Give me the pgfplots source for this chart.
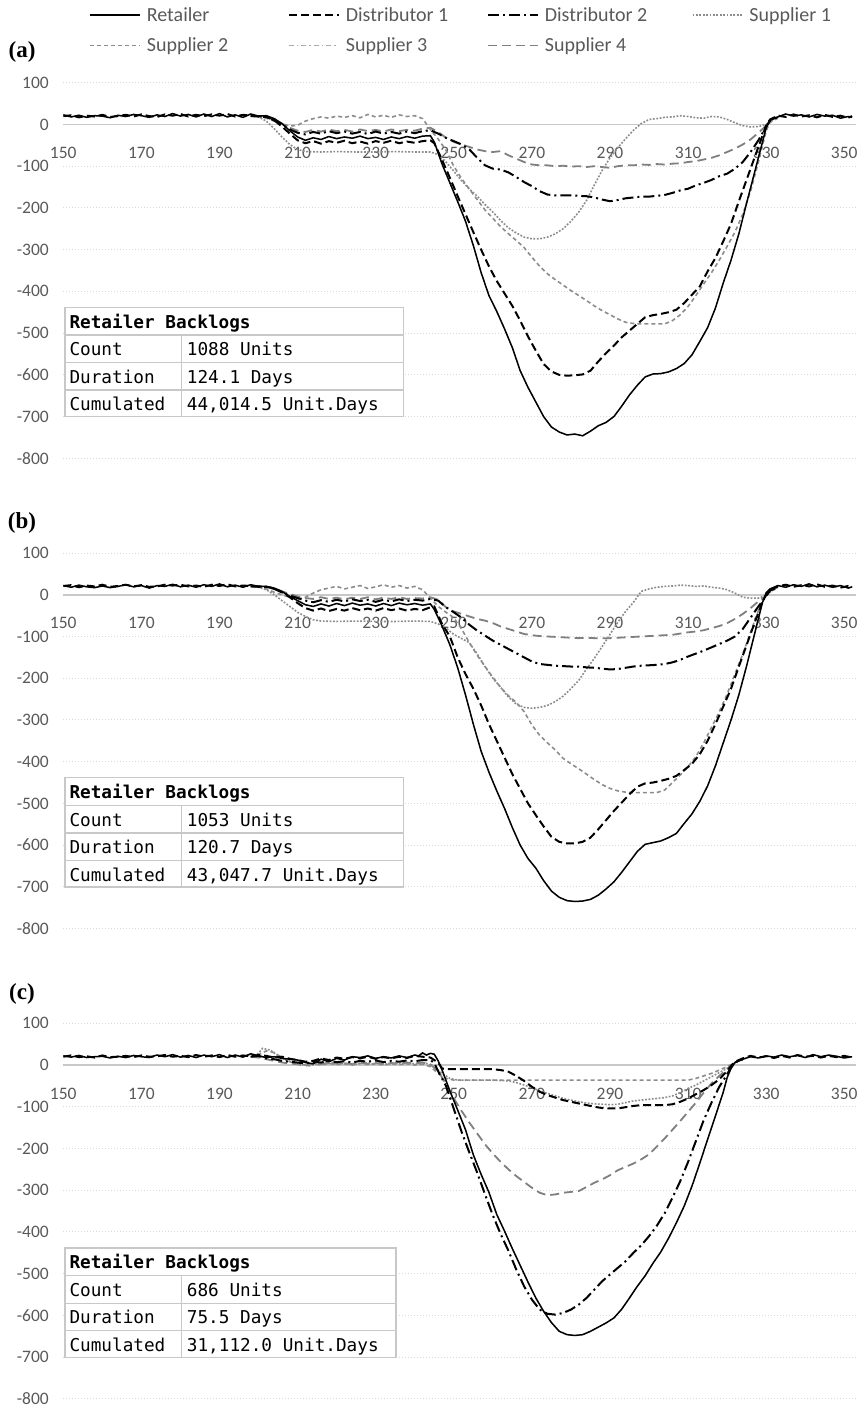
\documentclass[border=0pt]{standalone}
\usepackage{fontspec}
\setmainfont{Carlito}
\newfontfamily\tablefont{DejaVu Sans Mono}
\newfontfamily\panelfont{Liberation Serif}
\usepackage{pgfplots}
\pgfplotsset{compat=1.18}
\usepackage{pgfplotstable}

\definecolor{ticktext}{HTML}{595959}
\definecolor{gridgray}{HTML}{D9D9D9}
\definecolor{zerogray}{HTML}{C8C8C8}
\definecolor{tableline}{HTML}{C8C8C8}
\definecolor{supA}{HTML}{8C8C8C}
\definecolor{supB}{HTML}{8C8C8C}
\definecolor{supC}{HTML}{ABABAB}
\definecolor{supD}{HTML}{7F7F7F}

\tikzset{
  retailer/.style={black, line width=1.5pt, solid},
  dist1/.style={black, line width=2pt, dash pattern=on 8pt off 4pt},
  dist2/.style={black, line width=2pt, dash pattern=on 11pt off 4pt on 2pt off 4pt},
  sup1/.style={supA, line width=1.6pt, dash pattern=on 1.8pt off 1.6pt},
  sup2/.style={supB, line width=1.6pt, dash pattern=on 4pt off 3pt},
  sup3/.style={supC, line width=1.2pt, dash pattern=on 5pt off 3pt on 1.5pt off 3pt},
  sup4/.style={supD, line width=1.8pt, dash pattern=on 9pt off 5pt},
}

\pgfplotsset{
  panel/.style={
    scale only axis, width=792.7pt, height=375.6pt,
    anchor=south west,
    xmin=150, xmax=353, ymin=-800, ymax=100,
    xtick={150,170,...,350}, ytick={-800,-700,...,100},
    axis x line*=middle, axis y line*=left,
    hide obscured x ticks=false, hide obscured y ticks=false,
    x axis line style={draw=zerogray, line width=1.6pt, -},
    y axis line style={draw=none},
    major tick length=0pt,
    ymajorgrids, major grid style={draw=gridgray, line width=1pt, dotted},
    tick label style={font=\fontsize{17.5}{21}\selectfont, text=ticktext},
    /pgf/number format/assume math mode=true,
    xticklabel style={anchor=center, yshift=-28.6pt},
    yticklabel style={anchor=east, xshift=-11pt},
  },
}

% retailer series (Supplier 3 runs underneath it)
\pgfplotstableread{
d v
150 23
152 18
154 22
156 17
158 21
160 20
162 16
164 22
166 19
168 24
170 21
172 17
174 23
176 19
178 26
180 20
182 24
184 18
186 25
188 19
190 26
192 18
194 23
196 17
198 25
200 20
202 21
204 14
206 2
208 -15
210 -30
212 -38
214 -32
216 -36
218 -29
220 -34
222 -30
224 -33
226 -28
228 -34
230 -31
232 -36
234 -30
236 -34
238 -29
240 -33
242 -28
244 -27
245 -42
247 -95
249 -140
251 -185
253 -232
255 -290
257 -355
259 -410
261 -448
263 -490
265 -535
267 -590
269 -630
271 -665
273 -700
275 -725
277 -737
279 -744
281 -742
283 -746
285 -735
287 -722
289 -714
291 -700
293 -675
295 -648
297 -625
299 -605
301 -598
303 -597
305 -593
307 -585
309 -573
311 -552
313 -520
315 -487
317 -440
319 -380
321 -325
323 -262
325 -188
327 -116
329 -44
330 -8
331 10
333 18
335 25
337 20
339 23
341 18
343 24
345 20
347 22
349 15
351 19
352 17
}\RetA

\pgfplotstableread{
d v
150 22
152 18
154 23
156 19
158 17
160 21
162 17
164 20
166 24
168 19
170 22
172 16
174 22
176 20
178 25
180 19
182 23
184 18
186 24
188 20
190 26
192 19
194 23
196 18
198 24
200 20
202 20
204 16
206 8
208 -4
210 -14
212 -24
214 -28
216 -22
218 -27
220 -21
222 -26
224 -20
226 -25
228 -22
230 -27
232 -21
234 -26
236 -20
238 -24
240 -21
242 -25
244 -22
245 -35
247 -75
249 -120
251 -175
253 -240
255 -310
257 -375
259 -425
261 -470
263 -512
265 -558
267 -600
269 -632
271 -655
273 -685
275 -710
277 -725
279 -733
281 -735
283 -734
285 -730
287 -720
289 -705
291 -688
293 -665
295 -640
297 -615
299 -598
301 -594
303 -590
305 -582
307 -572
309 -548
311 -525
313 -495
315 -458
317 -410
319 -355
321 -300
323 -240
325 -170
327 -95
329 -20
330 5
331 14
333 22
335 18
337 24
339 20
341 26
343 19
345 23
347 18
349 22
351 16
352 19
}\RetB

\pgfplotstableread{
d v
150 22
152 19
154 23
156 18
158 20
160 21
162 17
164 21
166 18
168 23
170 20
172 18
174 24
176 20
178 25
180 19
182 23
184 18
186 24
188 20
190 25
192 18
194 24
196 19
198 27
200 22
202 18
204 20
206 16
208 14
210 12
212 6
214 3
216 14
218 8
220 16
222 12
224 20
226 18
228 22
230 16
232 20
234 17
236 22
238 18
240 24
241 22
242 29
243 24
244 28
245 26
246 10
247 -12
249 -62
251 -108
253 -155
255 -215
257 -262
259 -305
261 -358
263 -398
265 -440
267 -480
269 -520
271 -558
273 -590
275 -617
277 -638
279 -646
281 -648
283 -646
285 -638
287 -628
289 -618
291 -606
293 -585
295 -558
297 -530
299 -505
301 -475
303 -448
305 -415
307 -378
309 -338
311 -290
313 -235
315 -178
317 -122
319 -65
320 -30
321 -8
322 6
324 14
326 20
328 17
330 22
332 19
334 24
336 20
338 23
340 18
342 25
344 20
346 24
348 21
350 17
352 20
}\RetC

\newcommand{\backlogtable}[5]{%
  \begin{scope}[yshift=-#1pt]
    \filldraw[fill=white, draw=tableline, line width=1.3pt] (65pt,-307.3pt) rectangle (#2pt,-416.7pt);
    \draw[tableline, line width=1.3pt] (65pt,-335pt) -- (#2pt,-335pt)
      (65pt,-362.7pt) -- (#2pt,-362.7pt) (65pt,-390pt) -- (#2pt,-390pt)
      (181.7pt,-335pt) -- (181.7pt,-416.7pt);
    \begin{scope}[every node/.style={anchor=base west, inner sep=0pt,
        font=\tablefont\fontsize{17.7}{21}\selectfont}]
      \node[font=\tablefont\bfseries\fontsize{17.7}{21}\selectfont] at (69.3pt,-328.2pt) {Retailer Backlogs};
      \node at (69.3pt,-355.8pt) {Count};
      \node at (186.7pt,-355.8pt) {#3};
      \node at (69.3pt,-383.3pt) {Duration};
      \node at (186.7pt,-383.3pt) {#4};
      \node at (69.3pt,-410.8pt) {Cumulated};
      \node at (186.7pt,-410.8pt) {#5};
    \end{scope}
  \end{scope}}

\begin{document}
\begin{tikzpicture}
\useasboundingbox (0pt,0pt) rectangle (863pt,-1409pt);

% ---------------- (a)
\begin{axis}[panel, at={(63.3pt,-458.3pt)},
  legend columns=4,
  legend image code/.code={\draw[#1] (0pt,0pt) -- (50pt,0pt);},
  legend style={at={(0.0325,1.201)}, anchor=north west, draw=none, fill=none,
    inner sep=0pt, column sep=0pt, row sep=15pt,
    font=\color{ticktext}\fontsize{20}{24}\selectfont,
    nodes={inner sep=0pt}},
  legend cell align=left]
\addlegendimage{retailer}\addlegendentry{\makebox[147pt][l]{\hspace{6pt}Retailer}}
\addlegendimage{dist1}\addlegendentry{\makebox[147pt][l]{\hspace{6pt}Distributor 1}}
\addlegendimage{dist2}\addlegendentry{\makebox[153pt][l]{\hspace{6pt}Distributor 2}}
\addlegendimage{sup1}\addlegendentry{\makebox[110pt][l]{\hspace{6pt}Supplier 1}}
\addlegendimage{sup2}\addlegendentry{\makebox[147pt][l]{\hspace{6pt}Supplier 2}}
\addlegendimage{sup3}\addlegendentry{\makebox[147pt][l]{\hspace{6pt}Supplier 3}}
\addlegendimage{sup4}\addlegendentry{\makebox[153pt][l]{\hspace{6pt}Supplier 4}}

\addplot[sup3, forget plot] table[x=d, y=v] {\RetA};
\addplot[sup4, forget plot] coordinates {(198,20)(200,20)(202,19)(204,12)(206,2)(208,-8)(210,-15)(212,-18)(214,-13)(216,-17)(218,-12)(220,-16)(222,-13)(224,-17)(226,-12)(228,-16)(230,-13)(232,-17)(234,-12)(236,-16)(238,-13)(240,-15)(242,-10)(244,-8)(246,-18)(248,-32)(250,-42)(252,-48)(254,-54)(256,-60)(258,-64)(260,-66)(262,-64)(264,-74)(266,-82)(268,-90)(270,-96)(272,-98)(274,-98)(276,-100)(278,-99)(280,-101)(282,-100)(284,-102)(286,-100)(288,-102)(290,-104)(292,-100)(294,-98)(296,-98)(298,-96)(300,-97)(302,-95)(304,-96)(306,-94)(308,-93)(310,-90)(312,-88)(314,-84)(316,-80)(318,-74)(320,-66)(322,-58)(324,-48)(326,-36)(328,-20)(330,-3)(331,10)(333,18)};
\addplot[sup2, forget plot] coordinates {(198,20)(200,19)(202,15)(204,8)(206,2)(208,-4)(210,-2)(212,8)(214,14)(216,18)(218,15)(220,20)(222,17)(224,21)(226,16)(228,24)(230,18)(232,22)(234,17)(236,23)(238,19)(240,21)(242,14)(244,-12)(246,-35)(248,-62)(250,-100)(252,-130)(254,-155)(256,-180)(258,-205)(260,-225)(262,-245)(264,-262)(266,-278)(268,-295)(270,-318)(272,-340)(274,-358)(276,-372)(278,-385)(280,-398)(282,-410)(284,-422)(286,-435)(288,-446)(290,-456)(292,-466)(294,-474)(296,-477)(298,-478)(300,-478)(302,-478)(304,-478)(306,-470)(308,-456)(310,-436)(312,-410)(314,-382)(316,-355)(318,-325)(320,-292)(322,-258)(324,-215)(326,-160)(328,-90)(330,-15)(331,5)(333,15)};
\addplot[sup1, forget plot] coordinates {(198,20)(200,18)(202,8)(204,-10)(206,-30)(208,-48)(210,-60)(212,-65)(216,-66)(220,-65)(225,-66)(230,-66)(235,-65)(240,-66)(244,-66)(246,-72)(248,-90)(250,-112)(252,-135)(254,-155)(256,-172)(258,-192)(260,-210)(262,-230)(264,-248)(266,-260)(268,-270)(270,-274)(272,-274)(274,-270)(276,-262)(278,-250)(280,-232)(282,-210)(284,-182)(286,-145)(288,-110)(290,-80)(292,-56)(294,-34)(296,-14)(298,2)(300,12)(302,14)(304,17)(306,18)(308,21)(310,19)(312,16)(314,15)(316,19)(318,18)(320,12)(322,4)(324,-3)(326,-6)(328,-5)(330,0)(332,14)};
\addplot[dist2, forget plot] coordinates {(198,20)(200,20)(202,18)(204,10)(206,0)(208,-12)(210,-20)(212,-24)(214,-18)(216,-22)(218,-16)(220,-21)(222,-17)(224,-22)(226,-18)(228,-23)(230,-17)(232,-22)(234,-18)(236,-22)(238,-17)(240,-21)(242,-16)(244,-14)(246,-22)(248,-32)(250,-40)(252,-48)(254,-60)(256,-80)(258,-98)(260,-106)(262,-108)(264,-115)(266,-126)(268,-138)(270,-148)(272,-160)(274,-168)(276,-170)(278,-170)(280,-170)(282,-171)(284,-172)(286,-175)(288,-180)(290,-184)(292,-181)(294,-177)(296,-175)(298,-173)(300,-173)(302,-171)(304,-169)(306,-164)(308,-158)(310,-154)(312,-146)(314,-140)(316,-133)(318,-124)(320,-118)(322,-106)(324,-90)(326,-66)(328,-38)(330,-5)(331,10)(333,18)};
\addplot[dist1, forget plot] coordinates {(150,20)(152,22)(154,17)(156,21)(158,19)(160,23)(162,18)(164,20)(166,23)(168,19)(170,24)(172,20)(174,18)(176,24)(178,21)(180,25)(182,19)(184,23)(186,20)(188,24)(190,21)(192,25)(194,19)(196,23)(198,21)(200,19)(202,18)(204,10)(206,-5)(208,-22)(210,-38)(212,-45)(214,-40)(216,-46)(218,-40)(220,-44)(222,-39)(224,-45)(226,-41)(228,-46)(230,-40)(232,-44)(234,-39)(236,-45)(238,-41)(240,-44)(242,-40)(244,-38)(245,-45)(247,-85)(249,-128)(251,-172)(253,-215)(255,-258)(257,-300)(259,-340)(261,-375)(263,-405)(265,-435)(267,-470)(269,-508)(271,-542)(273,-574)(275,-592)(277,-600)(279,-602)(281,-601)(283,-599)(285,-590)(287,-568)(289,-548)(291,-530)(293,-510)(295,-494)(297,-478)(299,-462)(301,-457)(303,-454)(305,-450)(307,-444)(309,-428)(311,-408)(313,-388)(315,-352)(317,-320)(319,-280)(321,-238)(323,-184)(325,-132)(327,-80)(329,-28)(330,-2)(331,12)(333,21)(335,18)(337,24)(339,19)(341,22)(343,17)(345,23)(347,18)(349,21)(351,16)(352,20)};
\addplot[retailer, forget plot] table[x=d, y=v] {\RetA};
\end{axis}

% ---------------- (b)
\begin{axis}[panel, at={(63.3pt,-928.6pt)}]
\addplot[sup3] table[x=d, y=v] {\RetB};
\addplot[sup4] coordinates {(198,20)(200,20)(202,19)(204,15)(206,8)(208,2)(210,-4)(212,-8)(214,-10)(216,-6)(218,-10)(220,-7)(222,-11)(224,-7)(226,-10)(228,-6)(230,-11)(232,-7)(234,-10)(236,-6)(238,-10)(240,-8)(242,-9)(244,-6)(246,-12)(248,-30)(250,-40)(252,-46)(254,-52)(256,-58)(258,-62)(260,-68)(262,-76)(264,-82)(266,-88)(268,-94)(270,-97)(272,-99)(274,-100)(276,-101)(278,-102)(280,-103)(282,-104)(284,-103)(286,-104)(288,-104)(290,-104)(292,-103)(294,-102)(296,-101)(298,-100)(300,-99)(302,-98)(304,-97)(306,-96)(308,-93)(310,-90)(312,-88)(314,-85)(316,-80)(318,-75)(320,-68)(322,-58)(324,-46)(326,-32)(328,-16)(330,-2)(331,10)(333,18)};
\addplot[sup2] coordinates {(198,20)(200,19)(202,14)(204,6)(206,0)(208,-6)(210,-10)(212,-6)(214,4)(216,12)(218,16)(220,20)(222,14)(224,18)(226,22)(228,15)(230,19)(232,24)(234,18)(236,22)(238,16)(240,20)(242,12)(244,-8)(246,-28)(248,-42)(250,-55)(252,-82)(254,-115)(256,-145)(258,-172)(260,-198)(262,-222)(264,-242)(266,-258)(268,-280)(270,-312)(272,-337)(274,-355)(276,-372)(278,-392)(280,-405)(282,-417)(284,-430)(286,-443)(288,-455)(290,-464)(292,-470)(294,-473)(296,-474)(298,-474)(300,-474)(302,-474)(304,-468)(306,-450)(308,-432)(310,-412)(312,-388)(314,-355)(316,-318)(318,-280)(320,-238)(322,-190)(324,-142)(326,-90)(328,-38)(329,-12)(330,0)(331,8)(333,16)};
\addplot[sup1] coordinates {(198,20)(200,18)(202,12)(204,0)(206,-14)(208,-28)(210,-42)(212,-52)(214,-60)(216,-63)(220,-64)(225,-63)(230,-64)(235,-64)(240,-63)(244,-64)(246,-70)(248,-80)(250,-95)(252,-105)(254,-115)(256,-142)(258,-172)(260,-200)(262,-222)(264,-245)(266,-262)(268,-270)(270,-272)(272,-270)(274,-265)(276,-256)(278,-243)(280,-225)(282,-205)(284,-178)(286,-152)(288,-124)(290,-95)(292,-66)(294,-40)(296,-18)(298,8)(300,14)(302,18)(304,20)(306,21)(308,23)(310,22)(312,20)(314,21)(316,18)(318,16)(320,12)(322,4)(324,-6)(326,-8)(328,-8)(330,-2)(332,14)};
\addplot[dist2] coordinates {(198,20)(200,20)(202,19)(204,14)(206,6)(208,-2)(210,-8)(212,-14)(214,-18)(216,-13)(218,-17)(220,-12)(222,-16)(224,-11)(226,-15)(228,-12)(230,-17)(232,-12)(234,-16)(236,-11)(238,-15)(240,-12)(242,-14)(244,-10)(246,-14)(248,-30)(250,-42)(252,-55)(254,-72)(256,-86)(258,-98)(260,-110)(262,-120)(264,-130)(266,-140)(268,-150)(270,-160)(272,-166)(274,-168)(276,-170)(278,-171)(280,-172)(282,-172)(284,-174)(286,-175)(288,-177)(290,-179)(292,-178)(294,-175)(296,-172)(298,-170)(300,-169)(302,-168)(304,-166)(306,-162)(308,-156)(310,-148)(312,-141)(314,-134)(316,-126)(318,-118)(320,-110)(322,-100)(324,-82)(326,-55)(328,-28)(330,-3)(331,10)(333,18)};
\addplot[dist1] coordinates {(150,21)(152,23)(154,18)(156,22)(158,20)(160,24)(162,19)(164,21)(166,24)(168,20)(170,23)(172,19)(174,20)(176,24)(178,22)(180,24)(182,20)(184,22)(186,19)(188,24)(190,21)(192,25)(194,20)(196,22)(198,21)(200,19)(202,19)(204,15)(206,6)(208,-6)(210,-20)(212,-32)(214,-38)(216,-33)(218,-39)(220,-34)(222,-38)(224,-32)(226,-37)(228,-33)(230,-38)(232,-32)(234,-37)(236,-33)(238,-38)(240,-34)(242,-37)(244,-30)(245,-28)(247,-70)(249,-100)(251,-150)(253,-190)(255,-225)(257,-265)(259,-310)(261,-350)(263,-390)(265,-430)(267,-465)(269,-500)(271,-528)(273,-555)(275,-580)(277,-592)(279,-596)(281,-596)(283,-592)(285,-582)(287,-562)(289,-540)(291,-518)(293,-498)(295,-478)(297,-460)(299,-452)(301,-450)(303,-446)(305,-441)(307,-434)(309,-420)(311,-405)(313,-382)(315,-350)(317,-310)(319,-268)(321,-225)(323,-172)(325,-120)(327,-68)(329,-18)(330,0)(331,12)(333,20)(335,24)(337,19)(339,23)(341,20)(343,25)(345,19)(347,22)(349,17)(351,21)(352,18)};
\addplot[retailer] table[x=d, y=v] {\RetB};
\end{axis}

% ---------------- (c)
\begin{axis}[panel, at={(63.3pt,-1398.9pt)}]
\addplot[sup3] table[x=d, y=v] {\RetC};
\addplot[sup4] coordinates {(198,20)(200,18)(202,14)(204,10)(206,6)(208,4)(210,2)(212,-2)(214,4)(216,2)(218,6)(220,3)(222,5)(224,2)(226,6)(228,3)(230,5)(232,2)(234,5)(236,3)(238,6)(240,4)(242,6)(244,2)(246,-15)(248,-45)(250,-80)(252,-110)(254,-138)(256,-164)(258,-190)(260,-212)(262,-232)(264,-250)(266,-266)(268,-280)(270,-294)(272,-306)(274,-312)(276,-310)(278,-306)(280,-304)(282,-302)(284,-292)(286,-282)(288,-274)(290,-264)(292,-252)(294,-244)(296,-236)(298,-226)(300,-214)(302,-195)(304,-176)(306,-155)(308,-134)(310,-112)(312,-90)(314,-66)(316,-44)(318,-26)(320,-10)(322,6)(324,14)};
\addplot[sup2] coordinates {(198,20)(200,25)(202,34)(204,30)(206,18)(208,8)(210,2)(212,0)(214,3)(216,0)(218,4)(220,1)(222,3)(224,0)(226,4)(228,1)(230,3)(232,0)(234,3)(236,1)(238,3)(240,0)(242,2)(244,-4)(246,-20)(248,-32)(250,-36)(260,-36)(270,-36)(280,-36)(290,-36)(300,-36)(310,-36)(312,-32)(314,-26)(316,-20)(318,-12)(320,-4)(322,6)(324,14)};
\addplot[sup1] coordinates {(198,20)(200,28)(201,40)(203,36)(205,22)(207,12)(209,6)(211,2)(213,-2)(215,4)(217,2)(219,6)(221,3)(223,5)(225,2)(227,6)(229,3)(231,5)(233,2)(235,5)(237,3)(239,4)(241,2)(243,4)(245,-5)(247,-20)(249,-32)(251,-36)(255,-36)(260,-36)(264,-38)(266,-42)(268,-48)(270,-54)(272,-62)(274,-68)(276,-74)(278,-80)(280,-84)(282,-88)(284,-91)(286,-93)(288,-94)(290,-95)(292,-94)(294,-90)(296,-86)(298,-84)(300,-82)(302,-80)(304,-78)(306,-74)(308,-66)(310,-56)(312,-48)(314,-38)(316,-28)(318,-18)(320,-8)(322,6)(324,14)};
\addplot[dist2] coordinates {(198,20)(200,22)(202,16)(204,14)(206,10)(208,8)(210,6)(212,4)(214,8)(216,6)(218,10)(220,7)(222,9)(224,6)(226,10)(228,8)(230,11)(232,7)(234,10)(236,8)(238,11)(240,9)(242,12)(244,12)(245,5)(246,-15)(248,-50)(250,-105)(252,-160)(254,-210)(256,-258)(258,-310)(260,-360)(262,-405)(264,-445)(266,-490)(268,-530)(270,-562)(272,-586)(274,-596)(276,-598)(278,-594)(280,-586)(282,-574)(284,-558)(286,-538)(288,-518)(290,-502)(292,-486)(294,-470)(296,-450)(298,-432)(300,-410)(302,-385)(304,-355)(306,-318)(308,-278)(310,-232)(312,-182)(314,-132)(316,-90)(318,-52)(320,-22)(321,-5)(322,6)(324,14)};
\addplot[dist1] coordinates {(150,20)(152,23)(154,19)(156,21)(158,18)(160,23)(162,19)(164,20)(166,22)(168,19)(170,23)(172,20)(174,21)(176,24)(178,20)(180,22)(182,19)(184,24)(186,20)(188,23)(190,19)(192,24)(194,20)(196,23)(198,21)(200,24)(202,22)(204,18)(206,20)(208,15)(210,12)(212,8)(214,10)(216,16)(218,12)(220,18)(222,15)(224,19)(226,16)(228,20)(230,15)(232,19)(234,16)(236,20)(238,17)(240,22)(242,20)(244,18)(246,6)(247,-8)(248,-10)(252,-10)(256,-10)(260,-10)(262,-12)(264,-16)(266,-26)(268,-38)(270,-52)(272,-64)(274,-72)(276,-78)(278,-84)(280,-88)(282,-92)(284,-96)(286,-100)(288,-103)(290,-104)(292,-104)(294,-101)(296,-98)(298,-96)(300,-96)(302,-96)(304,-96)(306,-94)(308,-88)(310,-80)(312,-70)(314,-60)(316,-48)(318,-34)(320,-14)(321,-2)(322,8)(324,16)(326,22)(328,18)(330,21)(332,17)(334,22)(336,18)(338,24)(340,20)(342,22)(344,18)(346,22)(348,19)(350,22)(352,18)};
\addplot[retailer] table[x=d, y=v] {\RetC};
\end{axis}

% inset tables
\backlogtable{0}{403.3}{1088 Units}{124.1 Days}{44,014.5 Unit.Days}
\backlogtable{470.3}{403.8}{1053 Units}{120.7 Days}{43,047.7 Unit.Days}
\backlogtable{940.6}{396}{686 Units}{75.5 Days}{31,112.0 Unit.Days}

% panel letters
\begin{scope}[every node/.style={font=\panelfont\bfseries\fontsize{23}{27}\selectfont}]
\node at (22pt,-52pt) {(a)};
\node at (22pt,-523pt) {(b)};
\node at (22pt,-993.5pt) {(c)};
\end{scope}
\end{tikzpicture}
\end{document}
